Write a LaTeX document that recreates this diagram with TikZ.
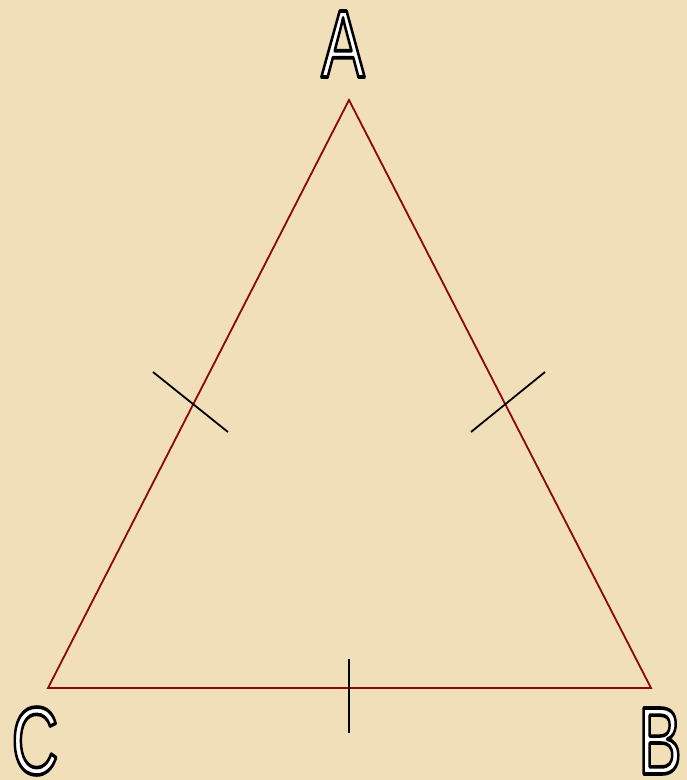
\documentclass[tikz,border=0pt]{standalone}
\usepackage{fontspec}
\usepackage{graphicx}
\setmainfont{Liberation Sans}
\definecolor{parch}{RGB}{240,223,184}
\definecolor{edge}{RGB}{140,8,8}
\newcommand{\vlabel}[1]{\scalebox{0.68}[1]{\fontsize{96}{96}\selectfont\special{pdf:literal 2 Tr 3.6 w 1 j 0 0 0 RG 1 1 1 rg}#1\special{pdf:literal 0 Tr 0 0 0 rg 0 0 0 RG}}}
\begin{document}
\begin{tikzpicture}[x=1pt,y=-1pt,
  side/.style={draw=edge,line width=1.8pt},
  tick/.style={draw=black,line width=1.8pt},
  lab/.style={inner sep=0pt,anchor=center}]
\fill[parch] (0,0) rectangle (687,780);
\useasboundingbox (0,0) rectangle (687,780);
\coordinate (A) at (349,100);
\coordinate (B) at (651,688);
\coordinate (C) at (48,688);
\draw[side,line join=miter] (A) -- (B) -- (C) -- cycle;
\coordinate (t1a) at (153,372); \coordinate (t1b) at (228,432);
\coordinate (t2a) at (545,372); \coordinate (t2b) at (471,432);
\coordinate (t3a) at (349,659); \coordinate (t3b) at (349,733);
\draw[tick] (t1a) -- (t1b);
\draw[tick] (t2a) -- (t2b);
\draw[tick] (t3a) -- (t3b);
\node[lab] (LA) at (343,44) {\vlabel{A}};
\node[lab] (LB) at (660,741) {\vlabel{B}};
\node[lab] (LC) at (35,741) {\vlabel{C}};
\end{tikzpicture}
\end{document}
